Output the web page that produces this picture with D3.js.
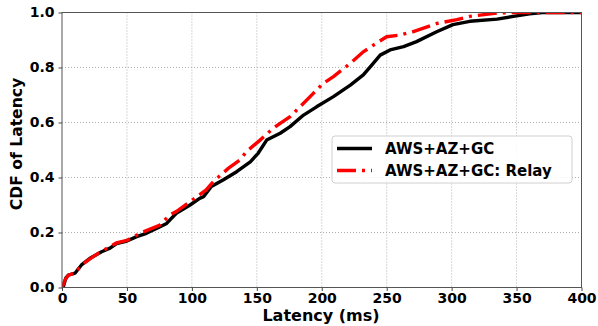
<!DOCTYPE html>
<html lang="en">
<head>
<meta charset="utf-8">
<title>CDF of Latency</title>
<script src="https://cdn.jsdelivr.net/npm/d3@7"></script>
<style>
  body { margin: 0; background: #fff; }
  text { font-family: "DejaVu Sans", sans-serif; font-weight: bold; }
</style>
</head>
<body>
<script>
// latency (ms) and cumulative fraction
var directMs  = [0, 1, 3, 4.9, 10, 15, 21.5, 30.5, 37, 42, 50, 57.5, 65, 75.5, 80.6, 88, 98.6, 106, 109, 115, 124, 134.5, 145, 151, 157.6, 168, 175.6, 186, 196, 209, 222, 232, 238.5, 245, 252.6, 263, 273, 288.5, 301, 314, 335, 347.6, 360, 370, 400];
var directCdf = [0, 0.003, 0.035, 0.045, 0.052, 0.082, 0.106, 0.13, 0.143, 0.16, 0.169, 0.185, 0.197, 0.221, 0.233, 0.27, 0.30, 0.324, 0.33, 0.367, 0.391, 0.421, 0.457, 0.488, 0.536, 0.561, 0.585, 0.627, 0.657, 0.694, 0.736, 0.773, 0.809, 0.845, 0.864, 0.876, 0.894, 0.93, 0.956, 0.968, 0.976, 0.986, 0.995, 1.0, 1.0];

var relayMs  = [0, 2.3, 4.9, 10, 15, 24, 30.5, 42, 50, 60, 75, 83, 88, 98, 103.7, 111, 116.5, 128, 137, 142, 152.5, 162.7, 168, 175.6, 186, 193.5, 201, 209, 222, 232, 242, 250, 260, 270, 288.5, 304, 314, 335, 345, 400];
var relayCdf = [0, 0.027, 0.045, 0.052, 0.082, 0.112, 0.132, 0.162, 0.171, 0.197, 0.226, 0.264, 0.276, 0.31, 0.33, 0.355, 0.385, 0.433, 0.464, 0.494, 0.536, 0.579, 0.597, 0.621, 0.67, 0.706, 0.742, 0.767, 0.815, 0.857, 0.888, 0.912, 0.918, 0.93, 0.96, 0.974, 0.986, 0.998, 1.0, 1.0];

var seriesNames = ["AWS+AZ+GC", "AWS+AZ+GC: Relay"];
var xTicks = [0, 50, 100, 150, 200, 250, 300, 350, 400];
var yTicks = [0, 0.2, 0.4, 0.6, 0.8, 1.0];

var w = 598, h = 326;
var plotLeft = 62, plotRight = 581.5, plotTop = 12.5, plotBottom = 287.5;

var xScale = d3.scaleLinear().domain([0, 400]).range([plotLeft, plotRight]);
var yScale = d3.scaleLinear().domain([0, 1]).range([plotBottom, plotTop]);

var svg = d3.select("body").append("svg")
    .attr("width", w)
    .attr("height", h);

svg.append("defs").append("clipPath").attr("id", "plotclip")
  .append("rect")
    .attr("x", plotLeft).attr("y", plotTop)
    .attr("width", plotRight - plotLeft).attr("height", plotBottom - plotTop);

// grid
svg.append("g").selectAll("line").data(xTicks.slice(1, -1)).enter().append("line")
    .attr("x1", function(d) { return xScale(d); })
    .attr("x2", function(d) { return xScale(d); })
    .attr("y1", plotTop).attr("y2", plotBottom)
    .attr("stroke", "#b0b0b0").attr("stroke-width", 1)
    .attr("stroke-dasharray", "1,2");
svg.append("g").selectAll("line").data(yTicks.slice(1, -1)).enter().append("line")
    .attr("y1", function(d) { return yScale(d); })
    .attr("y2", function(d) { return yScale(d); })
    .attr("x1", plotLeft).attr("x2", plotRight)
    .attr("stroke", "#b0b0b0").attr("stroke-width", 1)
    .attr("stroke-dasharray", "1,2");

// curves
var line = d3.line()
    .x(function(d) { return xScale(d[0]); })
    .y(function(d) { return yScale(d[1]); });

var plot = svg.append("g").attr("clip-path", "url(#plotclip)");

plot.append("path")
    .datum(d3.zip(directMs, directCdf))
    .attr("d", line)
    .attr("fill", "none")
    .attr("stroke", "black")
    .attr("stroke-width", 3.4)
    .attr("stroke-linejoin", "round");

plot.append("path")
    .datum(d3.zip(relayMs, relayCdf))
    .attr("d", line)
    .attr("fill", "none")
    .attr("stroke", "red")
    .attr("stroke-width", 3.4)
    .attr("stroke-dasharray", "19,6,3,6");

// axes
var xAxis = d3.axisBottom(xScale).tickValues(xTicks).tickSize(3.5).tickPadding(2);
var yAxis = d3.axisLeft(yScale).tickValues(yTicks).tickSize(3.5).tickPadding(4)
    .tickFormat(d3.format(".1f"));

var gx = svg.append("g").attr("transform", "translate(0," + plotBottom + ")").call(xAxis);
var gy = svg.append("g").attr("transform", "translate(" + plotLeft + ",0)").call(yAxis);

[gx, gy].forEach(function(g) {
  g.select(".domain").remove();
  g.selectAll(".tick line").attr("stroke", "#444");
  g.selectAll("text")
    .attr("font-family", "DejaVu Sans")
    .attr("font-weight", "bold")
    .attr("font-size", "14px")
    .attr("fill", "black");
});

// frame
svg.append("rect")
    .attr("x", plotLeft).attr("y", plotTop)
    .attr("width", plotRight - plotLeft).attr("height", plotBottom - plotTop)
    .attr("fill", "none")
    .attr("stroke", "#555")
    .attr("stroke-width", 1);

// axis labels
svg.append("text")
    .attr("x", 321)
    .attr("y", 320.5)
    .attr("text-anchor", "middle")
    .attr("font-size", "16px")
    .text("Latency (ms)");

svg.append("text")
    .attr("transform", "translate(22,144) rotate(-90)")
    .attr("text-anchor", "middle")
    .attr("font-size", "15.6px")
    .text("CDF of Latency");

// legend
var legend = svg.append("g");
legend.append("rect")
    .attr("x", 332).attr("y", 136)
    .attr("width", 240).attr("height", 47)
    .attr("rx", 3)
    .attr("fill", "white").attr("fill-opacity", 0.85)
    .attr("stroke", "#d0d0d0");

var legendStyles = [{ color: "black", dash: null }, { color: "red", dash: "19,6,3,6" }];
seriesNames.forEach(function(name, i) {
  var y = 148.5 + i * 22;
  legend.append("line")
      .attr("x1", 337).attr("x2", 372)
      .attr("y1", y).attr("y2", y)
      .attr("stroke", legendStyles[i].color)
      .attr("stroke-width", 3.4)
      .attr("stroke-dasharray", legendStyles[i].dash);
  legend.append("text")
      .attr("x", 385).attr("y", y + 5.5)
      .attr("font-size", "15px")
      .text(name);
});
</script>
</body>
</html>
